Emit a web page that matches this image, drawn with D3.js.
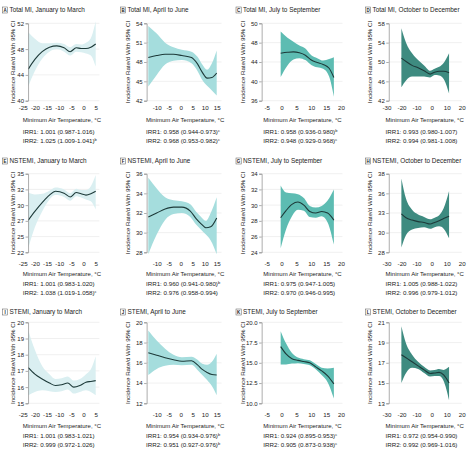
<!DOCTYPE html>
<html><head><meta charset="utf-8">
<script src="https://cdn.jsdelivr.net/npm/d3@7"></script>
<style>body{margin:0;background:#fff}svg{display:block}text{font-family:"Liberation Sans",Arial,sans-serif;fill:#222}</style>
</head><body><svg id="c" width="467" height="451"></svg>
<script>
// ---------- DATA ----------
const letters = ["A","B","C","D","E","F","G","H","I","J","K","L"];
const titles = ["Total MI, January to March","Total MI, April to June","Total MI, July to September","Total MI, October to December",
  "NSTEMI, January to March","NSTEMI, April to June","NSTEMI, July to September","NSTEMI, October to December",
  "STEMI, January to March","STEMI, April to June","STEMI, July to September","STEMI, October to December"];
const irr1 = ["1.001 (0.987-1.016)","0.958 (0.944-0.973)","0.958 (0.936-0.980)","0.993 (0.980-1.007)",
  "1.001 (0.983-1.020)","0.960 (0.941-0.980)","0.975 (0.947-1.005)","1.005 (0.988-1.022)",
  "1.001 (0.983-1.021)","0.954 (0.934-0.976)","0.924 (0.895-0.953)","0.972 (0.954-0.990)"];
const irr1Sup = ["","c","b","","","b","","","","b","c",""];
const irr2 = ["1.025 (1.009-1.041)","0.968 (0.953-0.982)","0.948 (0.929-0.968)","0.994 (0.981-1.008)",
  "1.038 (1.019-1.058)","0.976 (0.958-0.994)","0.970 (0.946-0.995)","0.996 (0.979-1.012)",
  "0.999 (0.972-1.026)","0.951 (0.927-0.976)","0.905 (0.873-0.938)","0.992 (0.969-1.016)"];
const irr2Sup = ["b","c","c","","c","","","","","b","c",""];

const xTicksJan = [-25,-20,-15,-10,-5,0,5];
const xTicksApr = [-10,-5,0,5,10,15];
const xTicksJul = [-5,0,5,10,15,20];
const xTicksOct = [-30,-20,-10,0,10,20];

const yTicksA = [40,44,48,52],        yLabelsA = ["40","44","48","52"];
const yTicksB = [42,45,48,51,54],     yLabelsB = ["42","45","48","51","54"];
const yTicksC = [36,40,44,48,52],     yLabelsC = ["36","40","44","48","50"];
const yTicksD = [42,46,50,54,58],     yLabelsD = ["42","46","50","54","58"];
const yTicksE = [22.5,25,27.5,30,32.5,35], yLabelsE = ["22","25","27","30","32","35"];
const yTicksF = [28,30,32,34,36],     yLabelsF = ["28","30","32","34","36"];
const yTicksG = [24,26,28,30,32,34],  yLabelsG = ["24","26","28","30","32","34"];
const yTicksH = [28,30.5,33,35.5,38], yLabelsH = ["28","30","33","36","38"];
const yTicksI = [15,16,17,18,19,20],  yLabelsI = ["15","16","17","18","19","20"];
const yTicksJ = [12,14,16,18,20],     yLabelsJ = ["12","14","16","18","20"];
const yTicksK = [10,12.5,15,17.5,20], yLabelsK = ["10.0","12.5","15.0","17.5","20.0"];
const yTicksL = [13,15,17,19,21],     yLabelsL = ["13","15","17","19","21"];

// temperatures (°C) and incidence rate/d with 95% CI
const tempA = [-22.7,-20,-17,-14,-11,-8,-5.5,-3,-1,1,3,5];
const rateA = [44.9,46.4,47.6,48.3,48.5,48.2,47.6,48.2,48.1,48.1,48.3,48.8];
const lowA  = [42.2,44.6,46.5,47.6,48.0,47.6,47.0,47.6,47.5,47.3,47.0,45.3];
const highA = [50.6,49.6,48.9,48.9,49.0,48.8,48.3,48.8,48.7,49.0,49.7,52.3];

const tempB = [-13.5,-10,-6.5,-3,0.5,4.5,7,9,11,13,15];
const rateB = [48.7,49.0,49.2,49.2,49.0,48.7,47.7,46.4,45.5,45.6,46.3];
const lowB  = [44.2,46.0,47.6,48.2,48.3,47.8,46.6,45.2,44.3,43.6,42.8];
const highB = [53.6,52.4,51.0,50.3,49.9,49.6,48.8,47.6,46.8,47.8,49.8];

const tempC = [-0.3,2,4,6,8,10,12,14,16,17.6];
const rateC = [45.8,46.0,46.1,45.9,45.4,44.4,43.9,43.5,42.7,40.8];
const lowC  = [40.9,43.3,44.5,44.8,44.4,43.4,42.9,42.6,41.0,36.8];
const highC = [50.3,49.0,48.2,47.4,46.8,45.4,44.8,44.3,44.6,45.0];

const tempD = [-20.1,-17,-13,-9,-5,-1,2,5,8,11.6];
const rateD = [50.8,50.1,49.3,48.8,48.2,47.5,47.9,48.1,48.1,47.8];
const lowD  = [44.8,46.2,47.0,47.0,47.0,46.8,47.3,47.2,46.5,43.5];
const highD = [57.0,54.0,51.8,50.4,49.3,48.2,48.6,49.0,49.8,51.8];

const tempE = [-22.7,-20,-17,-14,-11.5,-8,-5.5,-3,-1,1,3,5];
const rateE = [27.6,29.0,30.4,31.6,32.2,31.9,31.3,32.0,31.8,31.6,31.8,32.2];
const lowE  = [23.2,26.5,29.0,30.9,31.6,31.3,30.7,31.4,31.2,30.9,30.6,29.3];
const highE = [32.0,31.7,31.8,32.3,32.8,32.5,31.9,32.6,32.4,32.4,33.0,34.8];

const tempF = [-13.5,-10,-6.5,-3,0.5,4,6.5,8.5,10.5,12.5,15];
const rateF = [31.6,32.0,32.4,32.6,32.6,32.2,31.4,30.9,30.5,30.6,31.5];
const lowF  = [27.8,29.8,31.3,31.9,32.0,31.6,30.8,30.3,29.8,29.2,27.8];
const highF = [35.6,34.5,33.6,33.3,33.2,32.9,32.1,31.6,31.2,32.0,33.6];

const tempG = [-0.3,1.5,3.5,5.5,7.5,9.5,11.5,13.5,15.5,17.6];
const rateG = [28.4,29.3,30.1,30.4,30.0,29.2,29.0,29.2,29.0,28.1];
const lowG  = [24.5,26.9,28.6,29.4,29.3,28.5,28.4,28.6,27.8,25.0];
const highG = [32.5,31.6,31.5,31.4,30.9,29.9,29.7,29.9,30.6,32.0];

const tempH = [-20.1,-17,-13,-9,-5,-1,2,5,8,11.6];
const rateH = [32.9,32.4,32.1,31.9,31.8,31.6,31.8,32.0,32.3,32.6];
const lowH  = [28.6,30.2,30.9,31.1,31.2,31.0,31.2,31.3,31.0,29.8];
const highH = [37.4,34.8,33.4,32.8,32.5,32.2,32.4,32.7,33.6,35.8];

const tempI = [-22.7,-20,-17,-14,-11.5,-9,-6.5,-4,-1.5,1,3,5];
const rateI = [17.2,16.8,16.5,16.25,16.1,16.15,16.25,16.0,16.1,16.3,16.35,16.4];
const lowI  = [15.5,15.7,15.8,15.75,15.7,15.75,15.85,15.6,15.7,15.8,15.7,15.5];
const highI = [19.5,18.3,17.3,16.8,16.5,16.55,16.65,16.4,16.5,16.8,17.1,17.9];

const tempJ = [-13.5,-10,-6.5,-3,0.5,4.5,7,9,11,13,15];
const rateJ = [17.0,16.75,16.5,16.3,16.15,16.2,15.8,15.35,15.05,14.85,14.8];
const lowJ  = [14.8,15.4,15.7,15.8,15.75,15.8,15.3,14.8,14.3,13.7,12.8];
const highJ = [19.2,18.2,17.4,16.8,16.55,16.6,16.3,15.9,15.8,16.1,16.9];

const tempK = [-0.3,1.5,3.5,5.5,7.5,9.5,11.5,13.5,15.5,17.6];
const rateK = [17.0,16.1,15.5,15.3,15.15,15.0,14.5,14.0,13.4,12.4];
const lowK  = [14.8,14.8,14.9,14.95,14.85,14.7,14.2,13.5,12.6,10.6];
const highK = [18.9,17.4,16.2,15.65,15.45,15.3,14.85,14.4,14.3,14.4];

const tempL = [-20.1,-17,-13,-9,-5,-1,2,5,8,11.6];
const rateL = [17.8,17.5,17.1,16.7,16.3,15.95,16.0,16.05,15.8,15.0];
const lowL  = [15.0,16.0,16.5,16.4,16.0,15.65,15.7,15.7,15.2,13.3];
const highL = [20.6,18.9,17.8,17.1,16.6,16.25,16.3,16.4,16.3,16.6];

// ---------- ASSEMBLY ----------
const temps = [tempA,tempB,tempC,tempD,tempE,tempF,tempG,tempH,tempI,tempJ,tempK,tempL];
const rates = [rateA,rateB,rateC,rateD,rateE,rateF,rateG,rateH,rateI,rateJ,rateK,rateL];
const lows  = [lowA,lowB,lowC,lowD,lowE,lowF,lowG,lowH,lowI,lowJ,lowK,lowL];
const highs = [highA,highB,highC,highD,highE,highF,highG,highH,highI,highJ,highK,highL];
const yTicks = [yTicksA,yTicksB,yTicksC,yTicksD,yTicksE,yTicksF,yTicksG,yTicksH,yTicksI,yTicksJ,yTicksK,yTicksL];
const yLabels = [yLabelsA,yLabelsB,yLabelsC,yLabelsD,yLabelsE,yLabelsF,yLabelsG,yLabelsH,yLabelsI,yLabelsJ,yLabelsK,yLabelsL];
const xTicksCols = [xTicksJan,xTicksApr,xTicksJul,xTicksOct];

// layout
const cols = [
  {t0:-25, p0:22.7, t1:5,  p1:95.7,  axisV:-22.8, rightV:6.5, titleX:9.5,   boxX:2.5,   yTitleX:12.7,  textX:22.7,  band:"#daeff1"},
  {t0:-10, p0:156.7,t1:15, p1:216.7, axisV:-14.2, rightV:17,  titleX:127.5, boxX:120.5, yTitleX:127.7, textX:146,   band:"#a5dddd"},
  {t0:-5,  p0:266.7,t1:20, p1:341,   axisV:-6.7,  rightV:20.5,titleX:243,   boxX:236,   yTitleX:243.3, textX:263.3, band:"#5dbcb2"},
  {t0:-30, p0:386.5,t1:20, p1:461.7, axisV:-28.5, rightV:20,  titleX:372.5, boxX:365.5, yTitleX:370,   textX:385.5, band:"#3e8b80"}
];
const rows = [
  {title:10,  top:23.3,  bottom:100.7, tickY:107.7, xTitle:120.3, irr1:131.5, irr2:140.5},
  {title:161, top:173.7, bottom:252.3, tickY:263.5, xTitle:274,   irr1:284,   irr2:293},
  {title:312, top:322.3, bottom:403.3, tickY:415,   xTitle:425.7, irr1:435.5, irr2:444.5}
];

const svg = d3.select("#c");
const lineColor = "#1d3a39";
const FONT = "'Liberation Sans',Arial,sans-serif";

letters.forEach((L, i) => {
  const c = cols[i % 4], r = rows[Math.floor(i / 4)];
  const yt = yTicks[i];
  const x = d3.scaleLinear().domain([c.t0, c.t1]).range([c.p0, c.p1]);
  const y = d3.scaleLinear().domain([yt[0], yt[yt.length-1]]).range([r.bottom, r.top]);
  const g = svg.append("g");
  const ax = x(c.axisV), rx = x(c.rightV);

  // grid
  g.selectAll(".grid").data(yt).join("line")
    .attr("x1", ax).attr("x2", rx).attr("y1", d => y(d)).attr("y2", d => y(d))
    .attr("stroke", "#e6e6e6").attr("stroke-width", 0.6);

  const data = temps[i].map((t, k) => ({t, m: rates[i][k], lo: lows[i][k], hi: highs[i][k]}));
  g.append("path").datum(data)
    .attr("d", d3.area().x(d => x(d.t)).y0(d => y(d.lo)).y1(d => y(d.hi)).curve(d3.curveMonotoneX))
    .attr("fill", c.band);
  g.append("path").datum(data)
    .attr("d", d3.line().x(d => x(d.t)).y(d => y(d.m)).curve(d3.curveMonotoneX))
    .attr("fill", "none").attr("stroke", lineColor).attr("stroke-width", 1.1);

  // y axis
  const labMap = new Map(yt.map((v, k) => [v, yLabels[i][k]]));
  const yAxis = g.append("g").attr("transform", `translate(${ax},0)`)
    .call(d3.axisLeft(y).tickValues(yt).tickFormat(d => labMap.get(d)).tickSize(2.5).tickPadding(1.5));
  yAxis.select(".domain").attr("stroke", "#8a8a8a").attr("stroke-width", 0.7);
  yAxis.selectAll(".tick line").attr("stroke", "#8a8a8a").attr("stroke-width", 0.7);
  yAxis.selectAll("text").attr("font-size", 6).attr("fill", "#333").style("font-family", FONT);

  // x axis labels
  const xAxis = g.append("g").attr("transform", `translate(0,${r.tickY})`)
    .call(d3.axisBottom(x).tickValues(xTicksCols[i % 4]).tickFormat(d => String(d)).tickSize(0).tickPadding(0));
  xAxis.select(".domain").remove();
  xAxis.selectAll("text").attr("y", 0).attr("dy", "0.35em").attr("font-size", 6.2).attr("fill", "#333")
    .style("font-family", FONT);

  // y title
  g.append("text").attr("transform", `translate(${c.yTitleX},${(r.top + r.bottom) / 2}) rotate(-90)`)
    .attr("text-anchor", "middle").attr("dy", "0.35em").attr("font-size", 6.2)
    .text("Incidence Rate/d With 95% CI");

  // panel label box and title
  g.append("rect").attr("x", c.boxX).attr("y", r.title - 3).attr("width", 5.2).attr("height", 6)
    .attr("fill", "#fff").attr("stroke", "#555").attr("stroke-width", 0.5);
  g.append("text").attr("x", c.boxX + 2.6).attr("y", r.title).attr("dy", "0.35em").attr("text-anchor", "middle")
    .attr("font-size", 4.5).attr("font-weight", "bold").text(L);
  g.append("text").attr("x", c.titleX).attr("y", r.title).attr("dy", "0.35em").attr("font-size", 6.4).text(titles[i]);

  // x title
  g.append("text").attr("x", c.textX).attr("y", r.xTitle).attr("dy", "0.35em").attr("font-size", 6)
    .text("Minimum Air Temperature, °C");

  // IRR lines
  [[irr1[i], irr1Sup[i], r.irr1, "IRR1: "], [irr2[i], irr2Sup[i], r.irr2, "IRR2: "]].forEach(([v, s, yy, p]) => {
    const t = g.append("text").attr("x", c.textX).attr("y", yy).attr("dy", "0.35em").attr("font-size", 6.2);
    t.append("tspan").text(p + v);
    if (s) t.append("tspan").attr("font-size", 4).attr("dy", "-2").text(s);
  });
});
</script></body></html>
